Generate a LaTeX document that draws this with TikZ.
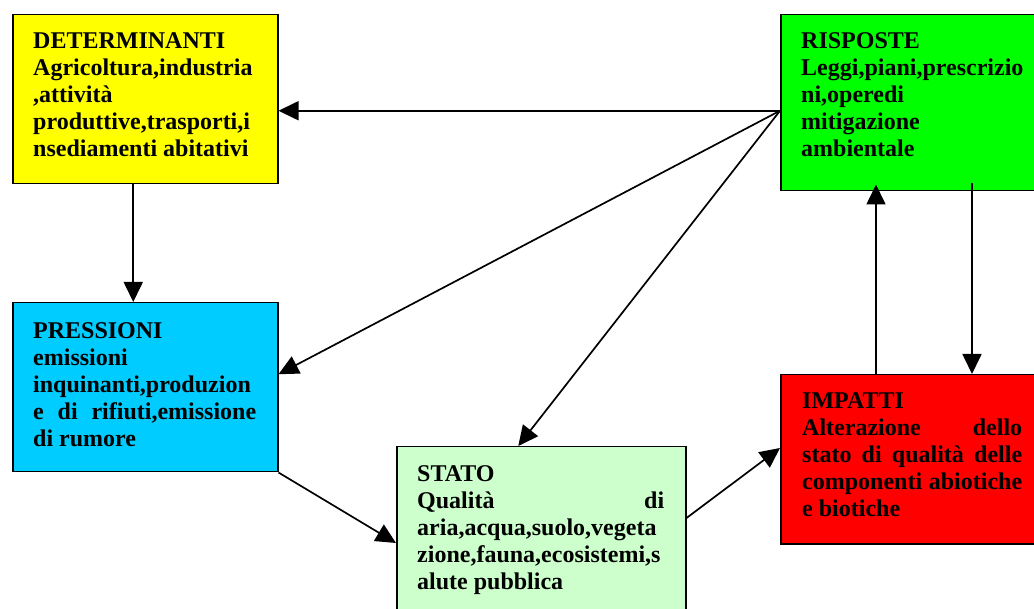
\documentclass[tikz,border=0pt]{standalone}
\usepackage{fontspec}
\setmainfont{Liberation Serif}
\usepackage{tikz}
\usetikzlibrary{positioning}
\usetikzlibrary{arrows.meta}
\definecolor{detyellow}{RGB}{255,255,0}
\definecolor{rispgreen}{RGB}{0,255,0}
\definecolor{presscyan}{RGB}{0,204,255}
\definecolor{statogreen}{RGB}{204,255,204}
\definecolor{impred}{RGB}{255,0,0}
\tikzset{
  box/.style={draw=black,line width=1.5pt,anchor=north west,inner sep=0pt},
  boxtext/.style={anchor=north west,inner sep=0pt,align=justify,
    font=\bfseries\fontsize{24}{27.2}\selectfont},
  conn/.style={line width=1.7pt},
  >={Triangle[length=20pt,width=19pt]},
}

\begin{document}
\begin{tikzpicture}[x=1pt,y=-1pt]
      \useasboundingbox (0,0) rectangle (1034,609);
      \node[box,fill=detyellow,minimum width=265pt,minimum height=169pt] (det) at (12,14) {};
      \node[box,fill=rispgreen,minimum width=270pt,minimum height=176pt] (risp) at (780,14) {};
      \node[box,fill=presscyan,minimum width=265pt,minimum height=169pt] (press) at (12,302) {};
      \node[box,fill=statogreen,minimum width=289pt,minimum height=180pt] (stato) at (396,446) {};
      \node[box,fill=impred,minimum width=270pt,minimum height=169pt] (imp) at (780,374) {};

      \node[boxtext,text width=230pt,below right=18pt and 21pt of det.north west] (det-t)
        {DETERMINANTI\newline Agricoltura,industria\newline ,attività\newline produttive,trasporti,i\newline nsediamenti abitativi};
      \node[boxtext,text width=225pt,below right=18pt and 21pt of risp.north west] (risp-t)
        {RISPOSTE\newline Leggi,piani,prescrizio\newline ni,operedi\newline mitigazione\newline ambientale};
      \node[boxtext,text width=223pt,below right=20pt and 21pt of press.north west] (press-t)
        {PRESSIONI\newline emissioni\newline inquinanti,produzion\newline e di rifiuti,emissione\linebreak di rumore};
      \node[boxtext,text width=247pt,below right=19pt and 21pt of stato.north west] (stato-t)
        {STATO\newline Qualità di\linebreak aria,acqua,suolo,vegeta\newline zione,fauna,ecosistemi,s\newline alute pubblica};
      \node[boxtext,text width=220pt,below right=18pt and 22pt of imp.north west] (imp-t)
        {IMPATTI\newline Alterazione dello\linebreak stato di qualità delle\linebreak componenti abiotiche\linebreak e biotiche};

      \path[->] ([yshift=-8pt]risp.west) edge[conn] ([yshift=-8pt]risp.west -| det.east);
      \path[->] ([xshift=-12pt]det.south) edge[conn] ([xshift=-12pt]press.north);
      \path[->] ([yshift=-8pt]risp.west) edge[conn] ([yshift=13pt]press.east);
      \path[->] ([yshift=-8pt]risp.west) edge[conn] ([xshift=-23pt]stato.north);
      \path[->] (press.south east) edge[conn] ([yshift=-97pt]stato.north west);
      \path[->] ([yshift=-72pt]stato.north east) edge[conn] ([yshift=-74pt]imp.north west);
      \path[->] ([xshift=96pt]imp.north west) edge[conn] ([shift={(96pt,7pt)}]risp.south west);
      \path[->] ([shift={(192pt,8pt)}]risp.south west) edge[conn] ([xshift=192pt]imp.north west);
\end{tikzpicture}
\end{document}
